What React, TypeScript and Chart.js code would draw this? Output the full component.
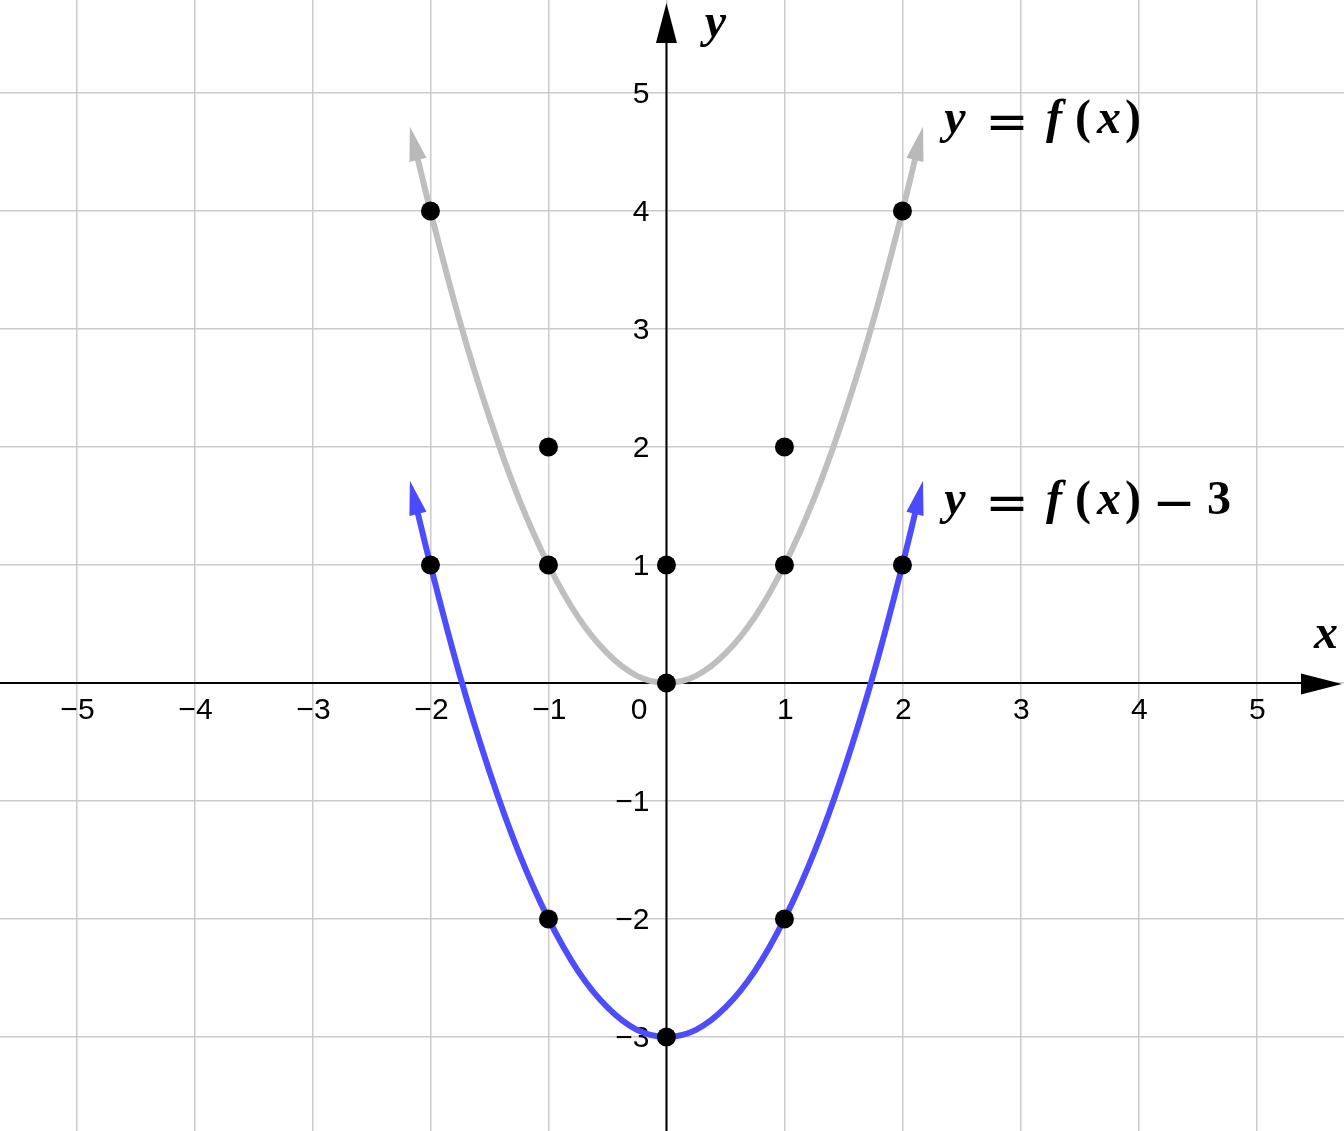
import { useEffect, useRef } from 'react'
import Chart from 'chart.js/auto'

// axis range and grid
const xRange = [-5.648, 5.742]
const yRange = [-3.797, 5.788]
const xTicks = [-5, -4, -3, -2, -1, 0, 1, 2, 3, 4, 5]
const yTicks = [-3, -2, -1, 0, 1, 2, 3, 4, 5]

const curveX = [-2.11, -2, -1.75, -1.5, -1.25, -1, -0.75, -0.5, -0.25, 0, 0.25, 0.5, 0.75, 1, 1.25, 1.5, 1.75, 2, 2.11]
const grayY = [4.45, 4, 3.06, 2.25, 1.56, 1, 0.56, 0.25, 0.06, 0, 0.06, 0.25, 0.56, 1, 1.56, 2.25, 3.06, 4, 4.45]
const blueY = [1.45, 1, 0.06, -0.75, -1.44, -2, -2.44, -2.75, -2.94, -3, -2.94, -2.75, -2.44, -2, -1.44, -0.75, 0.06, 1, 1.45]

// marked points
const dotX = [-2, 2, -1, 1, -2, -1, 0, 1, 2, 0, -1, 1, 0]
const dotY = [4, 4, 2, 2, 1, 1, 1, 1, 1, 0, -2, -2, -3]

// curve labels (anchor in data units)
const labelAnchors = [
  { x: 2.343, y: 4.66, pieces: ['y', '=', 'f', '(', 'x', ')'] },
  { x: 2.343, y: 1.43, pieces: ['y', '=', 'f', '(', 'x', ')', '\u2212', '3'] },
]

const GRAY = '#bfbfbf'
const BLUE = '#4d4dff'
const MATH_IT = "bold italic 48px 'Liberation Serif'"
const MATH_UP = "bold 48px 'Liberation Serif'"
const MATH_OP = "52px 'DejaVu Sans'"
const TICK_FONT = "30px 'Liberation Sans'"

// glyph centres relative to label start
const pieceOffset: Record<string, number> = { y: 12, '=': 64, f: 111, '(': 140, x: 166, ')': 190, '\u2212': 231, '3': 276 }

function fmt(v: number) {
  return v < 0 ? '\u2212' + Math.abs(v) : String(v)
}

function triangle(ctx: CanvasRenderingContext2D, tipX: number, tipY: number, ux: number, uy: number, len: number, half: number, color: string) {
  const bx = tipX - ux * len
  const by = tipY - uy * len
  ctx.beginPath()
  ctx.moveTo(tipX, tipY)
  ctx.lineTo(bx - uy * half, by + ux * half)
  ctx.lineTo(bx + uy * half, by - ux * half)
  ctx.closePath()
  ctx.fillStyle = color
  ctx.fill()
}

const axesPlugin = {
  id: 'axesPlugin',
  beforeDatasetsDraw(chart: any) {
    const { ctx, chartArea, scales } = chart
    const sx = scales.x
    const sy = scales.y
    const ox = sx.getPixelForValue(0)
    const oy = sy.getPixelForValue(0)
    ctx.save()
    ctx.strokeStyle = '#000'
    ctx.lineWidth = 2
    ctx.beginPath()
    ctx.moveTo(chartArea.left, oy)
    ctx.lineTo(chartArea.right - 42, oy)
    ctx.moveTo(ox, chartArea.bottom)
    ctx.lineTo(ox, chartArea.top + 42)
    ctx.stroke()
    triangle(ctx, chartArea.right - 2, oy + 1, 1, 0, 41, 10.5, '#000')
    triangle(ctx, ox, chartArea.top + 3, 0, -1, 40, 10.5, '#000')

    ctx.fillStyle = '#000'
    ctx.font = TICK_FONT
    ctx.textBaseline = 'middle'
    ctx.textAlign = 'center'
    xTicks.forEach((v) => {
      if (v === 0) return
      ctx.fillText(fmt(v), sx.getPixelForValue(v) + 1, oy + 28)
    })
    ctx.textAlign = 'right'
    yTicks.forEach((v) => {
      if (v === 0) return
      ctx.fillText(fmt(v), ox - 17, sy.getPixelForValue(v) + 2)
    })
    ctx.fillText('0', ox - 19, oy + 28)

    ctx.textAlign = 'center'
    ctx.textBaseline = 'alphabetic'
    ctx.font = MATH_IT
    ctx.fillText('x', chartArea.right - 18, oy - 35)
    ctx.fillText('y', ox + 49, chartArea.top + 37)
    ctx.restore()
  },
  afterDatasetsDraw(chart: any) {
    const { ctx, scales } = chart
    const sx = scales.x
    const sy = scales.y
    ctx.save()
    const curves = [
      { ys: grayY, color: '#b9b9b9' },
      { ys: blueY, color: '#4a4aff' },
    ]
    curves.forEach(({ ys, color }) => {
      const n = curveX.length
      const ends = [
        [0, 1],
        [n - 1, n - 2],
      ]
      ends.forEach(([a, b]) => {
        const ax = sx.getPixelForValue(curveX[a])
        const ay = sy.getPixelForValue(ys[a])
        const bx = sx.getPixelForValue(curveX[b])
        const by = sy.getPixelForValue(ys[b])
        const d = Math.hypot(ax - bx, ay - by)
        const ux = (ax - bx) / d
        const uy = (ay - by) / d
        triangle(ctx, ax + ux * 32, ay + uy * 32, ux, uy, 34, 8.8, color)
      })
    })

    ctx.fillStyle = '#000'
    ctx.textBaseline = 'alphabetic'
    ctx.textAlign = 'center'
    labelAnchors.forEach((lab) => {
      const px = sx.getPixelForValue(lab.x)
      const py = sy.getPixelForValue(lab.y)
      lab.pieces.forEach((p) => {
        if (p === '=' || p === '\u2212') {
          ctx.font = MATH_OP
          ctx.fillText(p, px + pieceOffset[p], py + 6)
        } else {
          ctx.font = /[a-z]/.test(p) ? MATH_IT : MATH_UP
          ctx.fillText(p, px + pieceOffset[p], py)
        }
      })
    })
    ctx.restore()
  },
}

export default function App() {
  const canvasRef = useRef<HTMLCanvasElement>(null)
  const chartRef = useRef<Chart | null>(null)

  useEffect(() => {
    document.body.style.margin = '0'
    if (!canvasRef.current) return
    const ctx = canvasRef.current.getContext('2d')
    if (!ctx) return

    if (chartRef.current) {
      chartRef.current.destroy()
    }

    const chart = new Chart(ctx, {
      type: 'scatter',
      data: {
        datasets: [
          {
            label: 'points',
            data: dotX.map((x, i) => ({ x, y: dotY[i] })),
            pointRadius: 9.5,
            pointBackgroundColor: '#000',
            pointBorderWidth: 0,
            showLine: false,
            order: 0,
          },
          {
            label: 'y = f(x) - 3',
            data: curveX.map((x, i) => ({ x, y: blueY[i] })),
            showLine: true,
            pointRadius: 0,
            borderColor: BLUE,
            borderWidth: 6,
            cubicInterpolationMode: 'monotone',
            order: 1,
          },
          {
            label: 'y = f(x)',
            data: curveX.map((x, i) => ({ x, y: grayY[i] })),
            showLine: true,
            pointRadius: 0,
            borderColor: GRAY,
            borderWidth: 6,
            cubicInterpolationMode: 'monotone',
            order: 2,
          },
        ],
      },
      options: {
        animation: false,
        responsive: true,
        maintainAspectRatio: false,
        events: [],
        layout: { padding: 0, autoPadding: false },
        plugins: {
          legend: { display: false },
          tooltip: { enabled: false },
        },
        scales: {
          x: {
            type: 'linear',
            min: xRange[0],
            max: xRange[1],
            afterBuildTicks: (scale: any) => {
              scale.ticks = xTicks.map((value) => ({ value }))
            },
            ticks: { display: false },
            grid: { color: '#cbcbcb', lineWidth: 1.5, drawTicks: false },
            border: { display: false },
          },
          y: {
            type: 'linear',
            min: yRange[0],
            max: yRange[1],
            afterBuildTicks: (scale: any) => {
              scale.ticks = yTicks.map((value) => ({ value }))
            },
            ticks: { display: false },
            grid: { color: '#cbcbcb', lineWidth: 1.5, drawTicks: false },
            border: { display: false },
          },
        },
      },
      plugins: [axesPlugin],
    })

    chartRef.current = chart

    return () => {
      if (chartRef.current) {
        chartRef.current.destroy()
        chartRef.current = null
      }
    }
  }, [])

  return (
    <div style={{ position: 'relative', width: '1344px', height: '1131px' }}>
      <canvas ref={canvasRef}></canvas>
    </div>
  )
}
